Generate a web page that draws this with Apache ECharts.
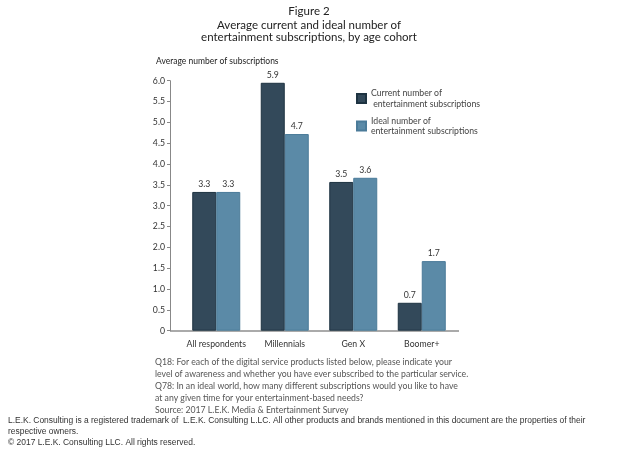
<!DOCTYPE html>
<html lang="en">
<head>
    <meta charset="UTF-8">
    <title>Average current and ideal number of entertainment subscriptions</title>
    <script src="https://cdn.jsdelivr.net/npm/echarts@6/dist/echarts.min.js"></script>
    <style>
        html, body {margin: 0; padding: 0; background: #fff;}
        #chart {width: 618px; height: 450px;}
    </style>
</head>
<body>
<div id="chart"></div>
<script>
    // categories and values
    const cohorts = ['All respondents', 'Millennials', 'Gen X', 'Boomer+'];
    const currentSubs = [3.33, 5.95, 3.57, 0.67];
    const idealSubs = [3.33, 4.72, 3.67, 1.67];
    const currentLabels = ['3.3', '5.9', '3.5', '0.7'];
    const idealLabels = ['3.3', '4.7', '3.6', '1.7'];
    const seriesNames = ['Current number of entertainment subscriptions', 'Ideal number of entertainment subscriptions'];
    const legendLines = {
        'Current number of entertainment subscriptions': 'Current number of\n entertainment subscriptions',
        'Ideal number of entertainment subscriptions': 'Ideal number of\nentertainment subscriptions'
    };

    const noteText = 'Q18: For each of the digital service products listed below, please indicate your\n' +
        'level of awareness and whether you have ever subscribed to the particular service.\n' +
        'Q78: In an ideal world, how many different subscriptions would you like to have\n' +
        'at any given time for your entertainment-based needs?\n' +
        'Source: 2017 L.E.K. Media & Entertainment Survey';
    const footerText = 'L.E.K. Consulting is a registered trademark of  L.E.K. Consulting L.LC. All other products and brands mentioned in this document are the properties of their\n' +
        'respective owners.\n' +
        '\u00a9 2017 L.E.K. Consulting LLC. All rights reserved.';

    const font = 'Lato, "Open Sans", sans-serif';
    let myChart = echarts.init(document.getElementById('chart'));

    let myOption = {
        animation: false,
        textStyle: {fontFamily: font},
        title: [
            {
                text: 'Figure 2',
                left: 'center',
                top: 0,
                textStyle: {fontSize: 11.5, fontWeight: 'normal', color: '#222', fontFamily: font}
            },
            {
                text: 'Average current and ideal number of\nentertainment subscriptions, by age cohort',
                left: 'center',
                top: 14,
                textStyle: {fontSize: 11.5, fontWeight: 'normal', color: '#222', lineHeight: 12.5, fontFamily: font}
            },
            {
                text: 'Average number of subscriptions',
                left: 151,
                top: 52,
                textStyle: {fontSize: 8.5, fontWeight: 'normal', color: '#222', fontFamily: font}
            },
            {
                text: noteText,
                left: 150,
                top: 351,
                textStyle: {fontSize: 8.7, fontWeight: 'normal', color: '#555', lineHeight: 12, fontFamily: font}
            },
            {
                text: footerText,
                left: 3,
                top: 410,
                textStyle: {fontSize: 8.45, fontWeight: 'normal', color: '#333', lineHeight: 11,
                    fontFamily: '"Liberation Sans", Arial, sans-serif'}
            }
        ],
        legend: {
            orient: 'vertical',
            left: 351,
            top: 83,
            itemWidth: 9,
            itemHeight: 9,
            itemGap: 6.5,
            icon: 'rect',
            data: seriesNames,
            formatter: function (name) {
                return legendLines[name];
            },
            textStyle: {fontSize: 8.7, color: '#444', lineHeight: 10.5, fontFamily: font}
        },
        grid: {
            left: 182,
            width: 274,
            top: 80.7,
            bottom: 119.3
        },
        xAxis: {
            type: 'category',
            data: cohorts,
            axisLine: {show: false},
            axisTick: {show: false},
            axisLabel: {interval: 0, fontSize: 8.7, color: '#333', margin: 9, fontFamily: font}
        },
        yAxis: {
            type: 'value',
            min: 0,
            max: 6,
            interval: 0.5,
            offset: 12,
            splitLine: {show: false},
            axisLine: {show: true, lineStyle: {color: '#888', width: 1}},
            axisTick: {show: true, inside: false, length: 3, lineStyle: {color: '#888'}},
            axisLabel: {
                fontSize: 8.7, color: '#333', margin: 5, fontFamily: font,
                formatter: function (v) {
                    return v === 0 ? '0' : v.toFixed(1);
                }
            }
        },
        series: [
            {
                name: seriesNames[0],
                type: 'bar',
                data: currentSubs,
                barWidth: 24,
                barGap: '0%',
                itemStyle: {color: '#33495a', borderColor: '#1e3342', borderWidth: 1},
                label: {
                    show: true, position: 'top', distance: 3, fontSize: 8.7, color: '#333', fontFamily: font,
                    formatter: function (p) {
                        return currentLabels[p.dataIndex];
                    }
                }
            },
            {
                name: seriesNames[1],
                type: 'bar',
                data: idealSubs,
                barWidth: 24,
                itemStyle: {color: '#5b8aa7', borderColor: '#4b7b99', borderWidth: 1},
                label: {
                    show: true, position: 'top', distance: 3, fontSize: 8.7, color: '#333', fontFamily: font,
                    formatter: function (p) {
                        return idealLabels[p.dataIndex];
                    }
                }
            }
        ],
        graphic: [
            {
                // baseline runs under the offset y axis as in the figure
                type: 'line',
                shape: {x1: 170, y1: 331, x2: 459, y2: 331},
                style: {stroke: '#aaa', lineWidth: 2}
            }
        ]
    };
    myChart.setOption(myOption);
</script>
</body>
</html>
